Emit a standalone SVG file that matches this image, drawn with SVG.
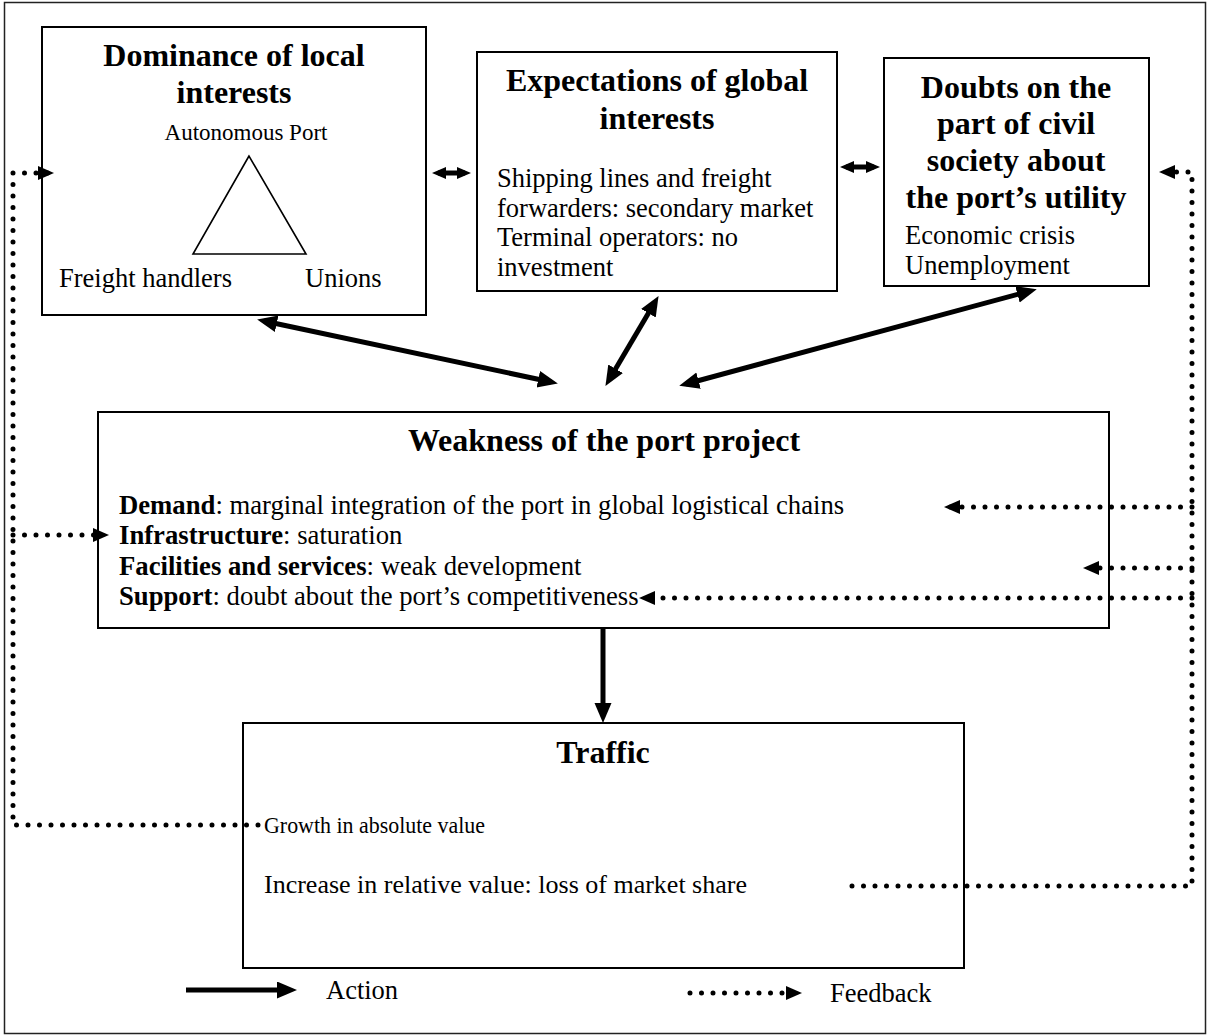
<svg xmlns="http://www.w3.org/2000/svg" width="1207" height="1036" viewBox="0 0 1207 1036">
<style>
text{font-family:"Liberation Serif","Times New Roman",serif;fill:#000}
.t{font-size:32px;font-weight:bold;text-anchor:middle}
.b{font-size:26.5px}
.w{font-size:26.7px}
.s{font-size:23px}
.box{fill:#fff;stroke:#000;stroke-width:2}
.act{fill:none;stroke:#000;stroke-width:5}
.fb{fill:none;stroke:#000;stroke-width:5;stroke-linecap:round;stroke-dasharray:0 11.5}
</style>
<defs>
<marker id="ah" markerUnits="userSpaceOnUse" markerWidth="21" markerHeight="18" refX="13" refY="8.5" orient="auto-start-reverse">
<path d="M0,0 L20,8.5 L0,17 z" fill="#000"/>
</marker>
<marker id="ahs" markerUnits="userSpaceOnUse" markerWidth="16" markerHeight="14" refX="8" refY="6" orient="auto-start-reverse">
<path d="M0,0 L14,6 L0,12 z" fill="#000"/>
</marker>
<marker id="fh" markerUnits="userSpaceOnUse" markerWidth="17" markerHeight="15" refX="10" refY="7" orient="auto">
<path d="M0,0 L16,7 L0,14 z" fill="#000"/>
</marker>
</defs>
<rect x="4.5" y="2.5" width="1201" height="1031" fill="#fff" stroke="#222" stroke-width="1.5"/>
<g id="n1">
<rect class="box" x="42" y="27" width="384" height="288"/>
<text class="t" x="234" y="66">Dominance of local</text>
<text class="t" x="234" y="103">interests</text>
<text class="s" x="246" y="140" text-anchor="middle">Autonomous Port</text>
<polygon points="249,156 193,254 306,254" fill="none" stroke="#000" stroke-width="1.6"/>
<text class="b" x="59" y="287">Freight handlers</text>
<text class="b" x="305" y="287">Unions</text>
</g>
<g id="n2">
<rect class="box" x="477" y="52" width="360" height="239"/>
<text class="t" x="657" y="91">Expectations of global</text>
<text class="t" x="657" y="129">interests</text>
<text class="b" x="497" y="187">Shipping lines and freight</text>
<text class="b" x="497" y="216.5">forwarders: secondary market</text>
<text class="b" x="497" y="246">Terminal operators: no</text>
<text class="b" x="497" y="275.5">investment</text>
</g>
<g id="n3">
<rect class="box" x="884" y="58" width="265" height="228"/>
<text class="t" x="1016" y="98">Doubts on the</text>
<text class="t" x="1016" y="134">part of civil</text>
<text class="t" x="1016" y="171">society about</text>
<text class="t" x="1016" y="208">the port’s utility</text>
<text class="b" x="905" y="244">Economic crisis</text>
<text class="b" x="905" y="274">Unemployment</text>
</g>
<g id="n4">
<rect class="box" x="98" y="412" width="1011" height="216"/>
<text class="t" x="604" y="451">Weakness of the port project</text>
<text class="w" x="119" y="514"><tspan font-weight="bold">Demand</tspan>: marginal integration of the port in global logistical chains</text>
<text class="w" x="119" y="544"><tspan font-weight="bold">Infrastructure</tspan>: saturation</text>
<text class="w" x="119" y="575"><tspan font-weight="bold">Facilities and services</tspan>: weak development</text>
<text class="w" x="119" y="605"><tspan font-weight="bold">Support</tspan>: doubt about the port’s competitiveness</text>
</g>
<g id="n5">
<rect class="box" x="243" y="723" width="721" height="245"/>
<text class="t" x="603" y="763">Traffic</text>
<text x="264" y="833" font-size="24px" textLength="221" lengthAdjust="spacingAndGlyphs">Growth in absolute value</text>
<text x="264" y="893" font-size="26px">Increase in relative value: loss of market share</text>
</g>
<g id="connectors">
<path class="act" d="M438,173 H465" stroke-width="4" marker-start="url(#ahs)" marker-end="url(#ahs)"/>
<path class="act" d="M846,167 H874" stroke-width="4" marker-start="url(#ahs)" marker-end="url(#ahs)"/>
<path class="act" d="M264,321 L551,382" marker-start="url(#ah)" marker-end="url(#ah)"/>
<path class="act" d="M655,302 L609,380" marker-start="url(#ah)" marker-end="url(#ah)"/>
<path class="act" d="M1030,291 L686,384" marker-start="url(#ah)" marker-end="url(#ah)"/>
<path class="act" d="M603,628 V716" marker-end="url(#ah)"/>
<path class="fb" d="M258,825 H13 V173 H48" marker-end="url(#fh)"/>
<path class="fb" d="M13,535 H103" marker-end="url(#fh)"/>
<path class="fb" d="M852,886 H1192 V172 H1165" marker-end="url(#fh)"/>
<path class="fb" d="M1192,507 H950" marker-end="url(#fh)"/>
<path class="fb" d="M1192,568 H1089" marker-end="url(#fh)"/>
<path class="fb" d="M1192,598 H645" marker-end="url(#fh)"/>
</g>
<g id="legend">
<path class="act" d="M186,990 H290" marker-end="url(#ah)"/>
<text class="b" x="326" y="999">Action</text>
<path class="fb" d="M690,993 H796" marker-end="url(#fh)"/>
<text class="b" x="830" y="1002">Feedback</text>
</g>
</svg>
